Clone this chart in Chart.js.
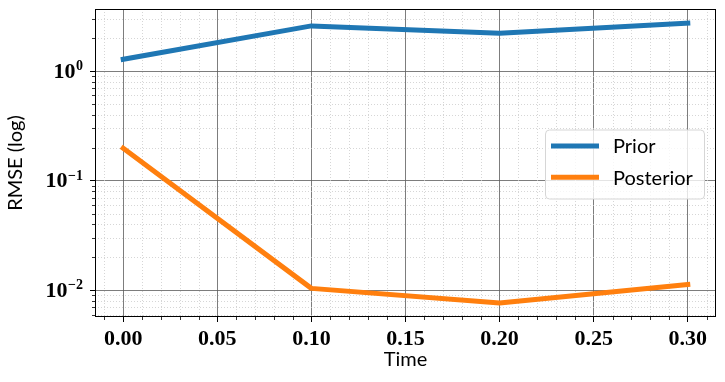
<!DOCTYPE html>
<html>
<head>
<meta charset="utf-8">
<script src="https://cdn.jsdelivr.net/npm/chart.js@4.4.1/dist/chart.umd.min.js"></script>
<style>
  body { margin: 0; background: #fff; }
  #wrap { width: 725px; height: 382px; }
</style>
</head>
<body>
<div id="wrap"><canvas id="rmse"></canvas></div>
<script>
// dados
const tempos = [0, 0.1, 0.2, 0.3];
const prior = [1.28, 2.58, 2.21, 2.74];
const posterior = [0.197, 0.0104, 0.00765, 0.0113];
const xTicks = [0, 0.05, 0.1, 0.15, 0.2, 0.25, 0.3];
const yTicks = [0.01, 0.1, 1];

const serif = 'Liberation Serif';

// grade menor, rotulos do eixo y, moldura e legenda
const extras = {
    id: 'extras',
    beforeDatasetsDraw(chart) {
        const { ctx, chartArea: ca, scales: { x, y } } = chart;
        ctx.save();
        const xs = [];
        for (let i = -2; i <= 32; i++) {
            if (i % 5 === 0) continue;
            const p = x.getPixelForValue(i / 100);
            if (p > ca.left && p < ca.right) xs.push(Math.round(p) + 0.5);
        }
        const ys = [];
        for (let n = -3; n <= 1; n++) {
            for (let k = 2; k <= 9; k++) {
                const p = y.getPixelForValue(k * Math.pow(10, n));
                if (p > ca.top && p < ca.bottom) ys.push(Math.round(p) + 0.5);
            }
        }
        ctx.strokeStyle = '#cccccc';
        ctx.lineWidth = 0.8;
        ctx.setLineDash([1, 2]);
        ctx.beginPath();
        xs.forEach(p => { ctx.moveTo(p, ca.top); ctx.lineTo(p, ca.bottom); });
        ys.forEach(p => { ctx.moveTo(ca.left, p); ctx.lineTo(ca.right, p); });
        ctx.stroke();
        ctx.setLineDash([]);
        ctx.strokeStyle = '#000';
        ctx.beginPath();
        xs.forEach(p => { ctx.moveTo(p, ca.bottom); ctx.lineTo(p, ca.bottom + 3); });
        ys.forEach(p => { ctx.moveTo(ca.left, p); ctx.lineTo(ca.left - 3, p); });
        ctx.stroke();

        // rotulos 10^n
        ctx.fillStyle = '#000';
        yTicks.forEach(v => {
            const p = y.getPixelForValue(v);
            const e = String(Math.round(Math.log10(v))).replace('-', '\u2212');
            ctx.font = 'bold 14px "' + serif + '"';
            const we = ctx.measureText(e).width;
            const right = ca.left - 12;
            ctx.textAlign = 'left';
            ctx.textBaseline = 'alphabetic';
            ctx.fillText(e, right - we, p - 1);
            ctx.font = 'bold 22px "' + serif + '"';
            ctx.textAlign = 'right';
            ctx.textBaseline = 'middle';
            ctx.fillText('10', right - we - 0.5, p + 1);
        });
        ctx.restore();
    },
    afterDatasetsDraw(chart) {
        const { ctx, chartArea: ca } = chart;
        ctx.save();
        ctx.strokeStyle = '#000';
        ctx.lineWidth = 1;
        ctx.strokeRect(Math.round(ca.left) + 0.5, Math.round(ca.top) + 0.5,
            Math.round(ca.right - ca.left) - 1, Math.round(ca.bottom - ca.top) - 1);

        // legenda
        const w = 159, h = 69;
        const bx = ca.right - 12 - w;
        const by = (ca.top + ca.bottom) / 2 - h / 2 + 1;
        ctx.beginPath();
        ctx.roundRect(bx + 0.5, by + 0.5, w, h, 4);
        ctx.fillStyle = 'rgba(255,255,255,0.8)';
        ctx.fill();
        ctx.strokeStyle = '#d6d6d6';
        ctx.lineWidth = 1;
        ctx.stroke();
        ctx.font = '20px Lato';
        ctx.textBaseline = 'middle';
        chart.data.datasets.forEach((ds, i) => {
            const ly = by + 16.5 + i * 31.3;
            ctx.strokeStyle = ds.borderColor;
            ctx.lineWidth = 5;
            ctx.beginPath();
            ctx.moveTo(bx + 6, ly);
            ctx.lineTo(bx + 54, ly);
            ctx.stroke();
            ctx.fillStyle = '#000';
            ctx.fillText(ds.label, bx + 68, ly + 1);
        });
        ctx.restore();
    }
};

function semPadding(s) {
    s.paddingTop = 0;
    s.paddingBottom = 0;
    s.paddingLeft = 0;
    s.paddingRight = 0;
}

const ctxRmse = document.getElementById('rmse');

new Chart(ctxRmse, {
    type: 'line',
    data: {
        datasets: [{
            label: 'Prior',
            data: tempos.map((t, i) => ({ x: t, y: prior[i] })),
            borderColor: '#1f77b4',
            borderWidth: 5,
            borderCapStyle: 'square',
            borderJoinStyle: 'round',
            pointRadius: 0,
            tension: 0
        }, {
            label: 'Posterior',
            data: tempos.map((t, i) => ({ x: t, y: posterior[i] })),
            borderColor: '#ff7f0e',
            borderWidth: 5,
            borderCapStyle: 'square',
            borderJoinStyle: 'round',
            pointRadius: 0,
            tension: 0
        }]
    },
    options: {
        responsive: true,
        maintainAspectRatio: false,
        animation: false,
        devicePixelRatio: 1,
        layout: { padding: { top: 9, right: 9, left: 0, bottom: 0 } },
        plugins: {
            legend: { display: false },
            tooltip: { enabled: false }
        },
        scales: {
            x: {
                type: 'linear',
                min: -0.015,
                max: 0.315,
                afterBuildTicks: (s) => { s.ticks = xTicks.map(v => ({ value: v })); },
                afterFit: (s) => { s.height = 65; semPadding(s); },
                ticks: {
                    callback: (v) => v.toFixed(2),
                    font: { family: serif, weight: 'bold', size: 22 },
                    color: '#000',
                    padding: 4,
                    maxRotation: 0
                },
                grid: { color: '#5c5c5c', lineWidth: 0.8, tickLength: 5, tickColor: '#000', tickWidth: 1 },
                border: { display: false },
                title: {
                    display: true,
                    text: 'Time',
                    font: { family: 'Lato', size: 20 },
                    color: '#000',
                    padding: { top: 0, bottom: 10 }
                }
            },
            y: {
                type: 'logarithmic',
                min: 0.0057,
                max: 3.68,
                afterBuildTicks: (s) => { s.ticks = yTicks.map(v => ({ value: v })); },
                afterFit: (s) => { s.width = 95; semPadding(s); },
                ticks: { display: false },
                grid: { color: '#5c5c5c', lineWidth: 0.8, tickLength: 5, tickColor: '#000', tickWidth: 1 },
                border: { display: false },
                title: {
                    display: true,
                    text: 'RMSE (log)',
                    font: { family: 'Lato', size: 20 },
                    color: '#000',
                    padding: { top: 4, bottom: 0 }
                }
            }
        }
    },
    plugins: [extras]
});
</script>
</body>
</html>
